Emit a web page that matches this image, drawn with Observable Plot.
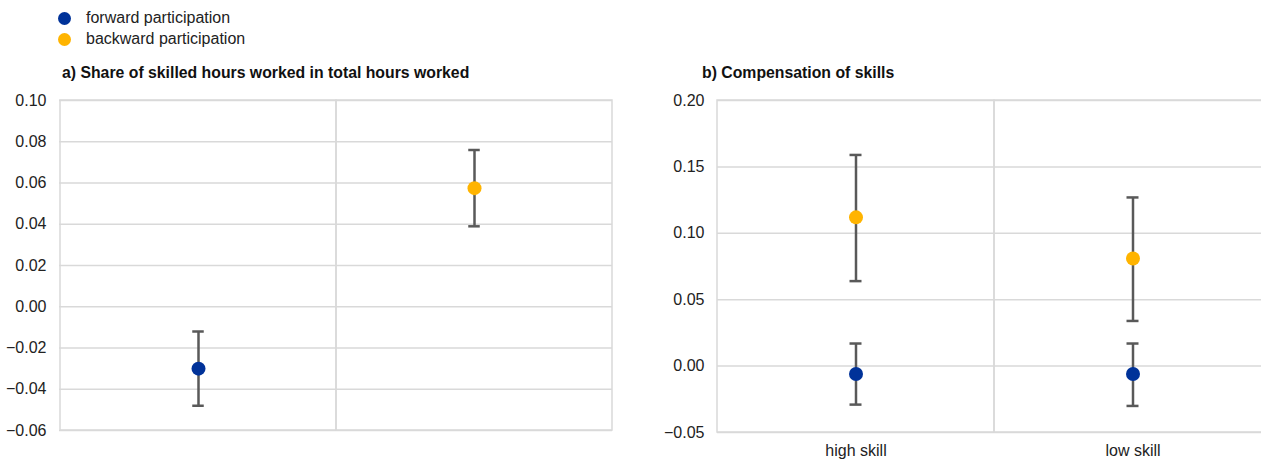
<!DOCTYPE html>
<html>
<head>
<meta charset="utf-8">
<script src="https://cdn.jsdelivr.net/npm/d3@7"></script>
<script src="https://cdn.jsdelivr.net/npm/@observablehq/plot@0.6"></script>
<style>
  body { margin: 0; background: #fff; font-family: "Liberation Sans", Arial, sans-serif; width: 1261px; height: 459px; position: relative; overflow: hidden; }
  .abs { position: absolute; }
  .leg { font-size: 16px; color: #222; white-space: nowrap; }
  .leg .dot { display: inline-block; width: 13px; height: 13px; border-radius: 50%; position: absolute; left: -28px; top: 3px; }
  .title { font-size: 15.8px; font-weight: bold; color: #111; white-space: nowrap; }
</style>
</head>
<body>
<div id="root"></div>
<script>
// ---- data ----
const seriesNames = ["forward participation", "backward participation"];
const seriesColors = ["#003299", "#FFB400"];

// panel a
const aTitle = "a) Share of skilled hours worked in total hours worked";
const aCategories = ["forward participation", "backward participation"];
const aTickLabels = ["", ""];
const aSeries = ["forward participation", "backward participation"];
const aValues = [-0.030, 0.0575];
const aLower = [-0.048, 0.039];
const aUpper = [-0.012, 0.076];
const aYTicks = [-0.06, -0.04, -0.02, 0.00, 0.02, 0.04, 0.06, 0.08, 0.10];

// panel b
const bTitle = "b) Compensation of skills";
const bCategories = ["high skill", "low skill"];
const bForward = [-0.006, -0.006];
const bForwardLower = [-0.029, -0.030];
const bForwardUpper = [0.017, 0.017];
const bBackward = [0.112, 0.081];
const bBackwardLower = [0.064, 0.034];
const bBackwardUpper = [0.159, 0.127];
const bYTicks = [-0.05, 0.00, 0.05, 0.10, 0.15, 0.20];

const root = document.getElementById("root");
const GRID = "#d9d9d9";
const BAR = "#595959";

// legend
seriesNames.forEach((name, i) => {
  const d = document.createElement("div");
  d.className = "abs leg";
  d.style.left = "86px";
  d.style.top = (9 + i * 21) + "px";
  d.innerHTML = `<span class="dot" style="background:${seriesColors[i]}"></span>${name}`;
  root.appendChild(d);
});

function addTitle(text, left) {
  const t = document.createElement("div");
  t.className = "abs title";
  t.style.left = left + "px";
  t.style.top = "64px";
  t.textContent = text;
  root.appendChild(t);
}
addTitle(aTitle, 62);
addTitle(bTitle, 702);

function panel({left, width, marginLeft, marginRight, marginBottom, categories, tickFormat, yDomain, yTicks, points}) {
  const height = 369, marginTop = 10;
  const band = (width - marginLeft - marginRight) / categories.length;
  const capInset = band / 2 - 6;
  const chart = Plot.plot({
    width, height, marginLeft, marginRight, marginTop, marginBottom,
    style: {fontFamily: "Liberation Sans, Arial, sans-serif", fontSize: "16px", color: "#222", background: "white", overflow: "visible"},
    x: {type: "band", domain: categories, padding: 0, label: null, tickSize: 0, tickPadding: 12, tickFormat},
    y: {domain: yDomain, ticks: yTicks, tickFormat: d3.format(".2f"), label: null, tickSize: 0, tickPadding: 13},
    color: {domain: seriesNames, range: seriesColors},
    marks: [
      Plot.ruleY(yTicks, {stroke: GRID, strokeWidth: 1.5}),
      Plot.cell(categories, {x: d => d, fill: "none", stroke: GRID, strokeWidth: 1.5, inset: 0}),
      Plot.ruleX(points, {x: "cat", y1: "lo", y2: "hi", stroke: BAR, strokeWidth: 2.5}),
      Plot.tickY(points, {x: "cat", y: "lo", stroke: BAR, strokeWidth: 2.5, insetLeft: capInset, insetRight: capInset}),
      Plot.tickY(points, {x: "cat", y: "hi", stroke: BAR, strokeWidth: 2.5, insetLeft: capInset, insetRight: capInset}),
      Plot.dot(points, {x: "cat", y: "v", fill: "series", r: 7, stroke: null})
    ]
  });
  chart.classList.add("abs");
  chart.style.left = left + "px";
  chart.style.top = "90px";
  root.appendChild(chart);
}

const aPoints = aCategories.map((c, i) => ({cat: c, series: aSeries[i], v: aValues[i], lo: aLower[i], hi: aUpper[i]}));
panel({
  left: 0, width: 630, marginLeft: 59, marginRight: 18, marginBottom: 29,
  categories: aCategories, tickFormat: (d, i) => aTickLabels[i],
  yDomain: [-0.06, 0.10], yTicks: aYTicks, points: aPoints
});

const bPoints = [
  ...bCategories.map((c, i) => ({cat: c, series: seriesNames[1], v: bBackward[i], lo: bBackwardLower[i], hi: bBackwardUpper[i]})),
  ...bCategories.map((c, i) => ({cat: c, series: seriesNames[0], v: bForward[i], lo: bForwardLower[i], hi: bForwardUpper[i]}))
];
panel({
  left: 630, width: 641, marginLeft: 87, marginRight: 0, marginBottom: 27,
  categories: bCategories, tickFormat: d => d,
  yDomain: [-0.05, 0.20], yTicks: bYTicks, points: bPoints
});
</script>
</body>
</html>
